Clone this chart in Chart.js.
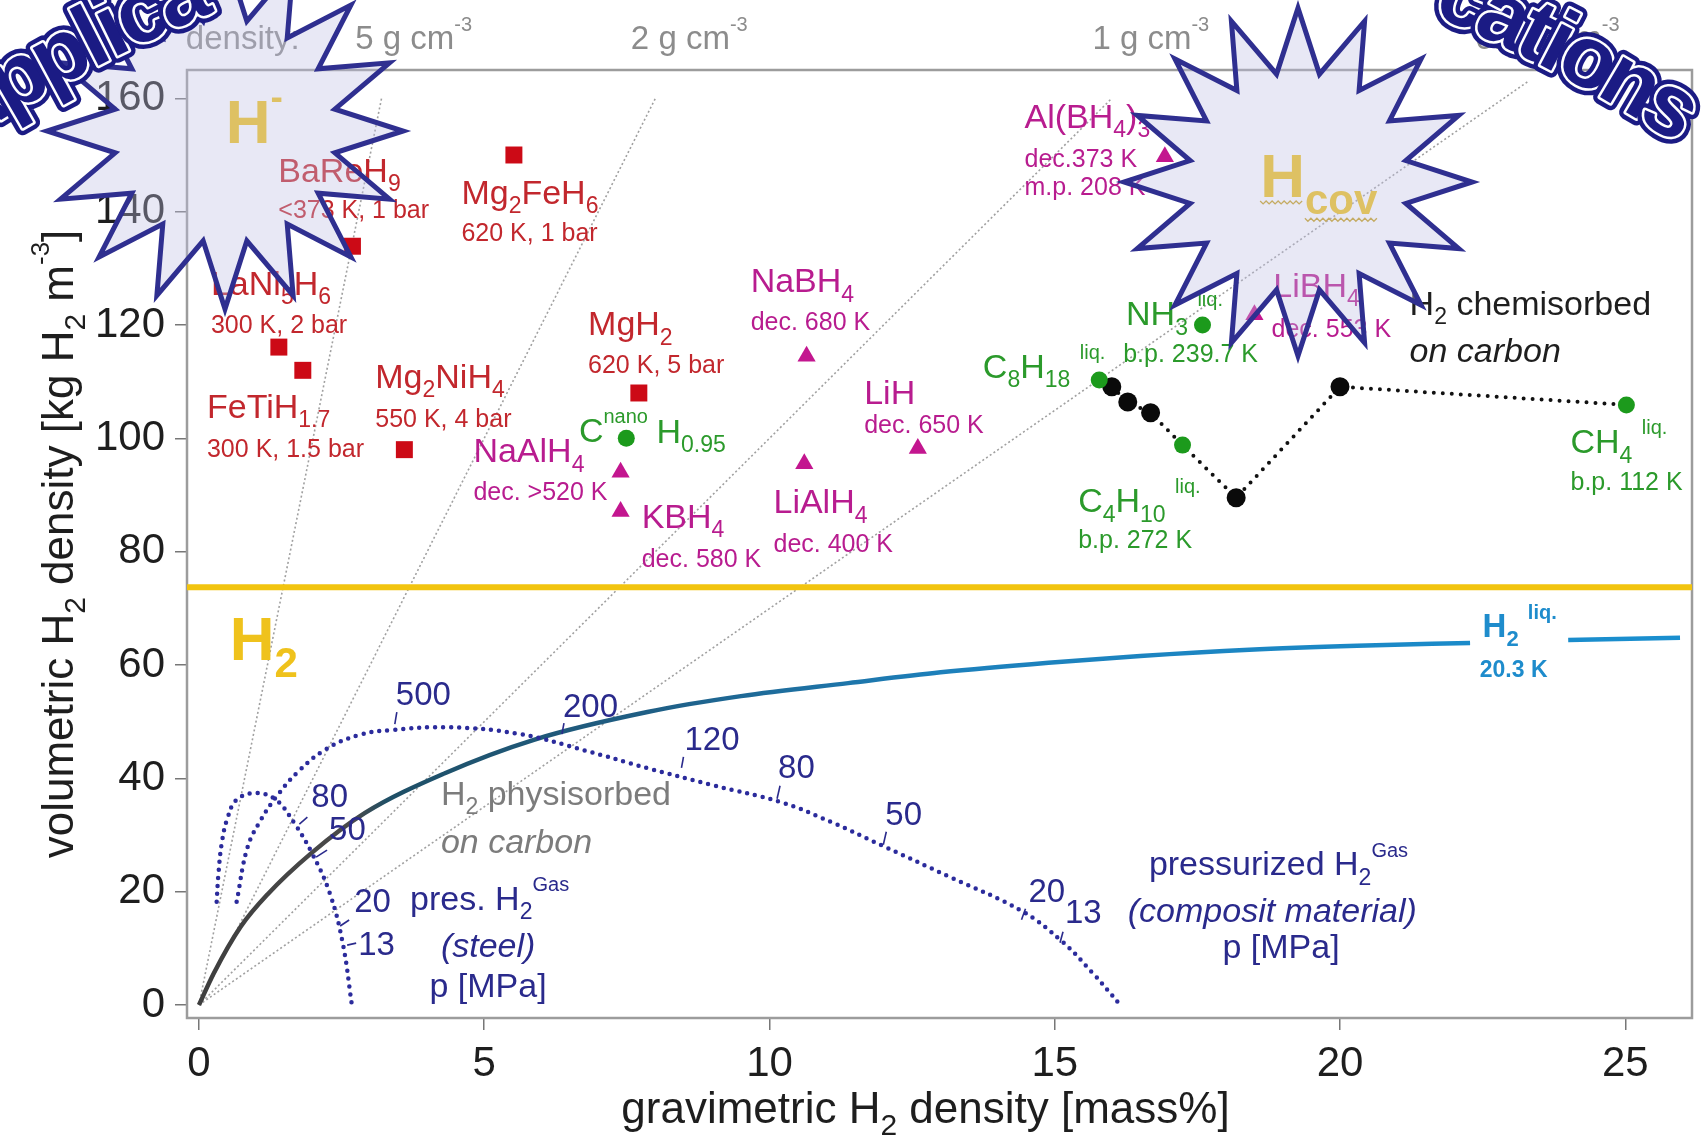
<!DOCTYPE html>
<html>
<head>
<meta charset="utf-8">
<title>Hydrogen storage densities</title>
<script src="https://cdn.jsdelivr.net/npm/chart.js"></script>
<style>
  html, body { margin: 0; padding: 0; background: #fff; }
  #wrap { width: 1704px; height: 1141px; position: relative; }
</style>
</head>
<body>
<div id="wrap"><canvas id="chart"></canvas></div>
<script>
// axis
const xMin = -0.21, xMax = 26.17, yMin = -2.3, yMax = 165;
const xTicks = [0, 5, 10, 15, 20, 25];
const yTicks = [0, 20, 40, 60, 80, 100, 120, 140, 160];

// metal hydrides (red squares)
const hydrideNames = ['BaReH9', 'Mg2FeH6', 'LaNi5H6', 'FeTiH1.7', 'Mg2NiH4', 'MgH2'];
const hydrideMass = [2.69, 5.52, 1.40, 1.82, 3.60, 7.71];
const hydrideVol = [133.9, 150.0, 116.1, 112.0, 98.0, 108.0];

// complex hydrides (magenta triangles)
const complexNames = ['Al(BH4)3', 'NaBH4', 'NaAlH4', 'KBH4', 'LiAlH4', 'LiH', 'LiBH4'];
const complexMass = [16.93, 10.65, 7.39, 7.39, 10.61, 12.60, 18.50];
const complexVol = [149.7, 114.5, 94.0, 87.1, 95.5, 98.2, 121.8];

// liquids and nano carbon (green circles)
const liquidNames = ['CnanoH0.95', 'C8H18', 'NH3', 'C4H10', 'CH4'];
const liquidMass = [7.49, 15.78, 17.59, 17.24, 25.02];
const liquidVol = [100.0, 110.3, 120.0, 98.8, 105.9];

// H2 chemisorbed on carbon (black circles + dotted guide)
const chemiMass = [16.0, 16.28, 16.68, 18.18, 20.0];
const chemiVol = [109.1, 106.4, 104.5, 89.5, 109.1];
const chemiLineMass = [16.0, 16.28, 16.68, 17.24, 18.18, 20.0, 25.02];
const chemiLineVol = [109.1, 106.4, 104.5, 98.8, 89.5, 109.1, 105.9];

// physisorbed / liquid H2 curve (null = gap for label)
const physMass = [0, 0.26, 0.73, 1.2, 1.97, 2.91, 4.31, 5.87, 7.86, 9.5, 11.38, 13.0, 14.89, 16.5, 18.41, 20.3, 22.28, 23.1, 24.0, 25.96];
const physVol = [0, 5.6, 13.8, 19.5, 26.8, 33.9, 40.9, 46.8, 51.7, 54.5, 56.8, 58.7, 60.4, 61.6, 62.7, 63.4, 63.9, null, 64.4, 64.8];

// pressurized H2 gas, steel tank
const steelMass = [0.31, 0.34, 0.40, 0.50, 0.66, 1.0, 1.35, 1.67, 1.98, 2.29, 2.52, 2.68];
const steelVol = [18.2, 23.0, 28.6, 33.0, 36.2, 37.4, 36.2, 32.1, 26.8, 19.8, 10.9, 0];

// pressurized H2 gas, composite tank
const compMass = [0.66, 0.85, 1.08, 1.36, 1.74, 2.22, 2.79, 3.35, 4.4, 5.63, 6.77, 7.86, 9.0, 10.2, 11.1, 11.96, 13.2, 14.42, 15.13, 15.65, 16.15];
const compVol = [18.2, 27.8, 32.6, 36.8, 41.2, 45.1, 47.6, 48.5, 49.0, 47.8, 44.9, 41.8, 38.8, 35.8, 32.2, 28.2, 22.4, 16.6, 11.2, 5.8, 0];

// liquid H2 density level
const liquidH2Level = 73.7;

// constant density guide lines (from origin)
const densityNames = ['5 g cm^{-3}', '2 g cm^{-3}', '1 g cm^{-3}', '0.7 g cm^{-3}'];
const densityEndMass = [3.2, 8.0, 16.0, 23.3];
const densityEndVol = [160, 160, 160, 163];
const densityLabelMass = [2.74, 7.57, 15.66, 22.37];

const FONT = '"Liberation Sans", Arial, Helvetica, sans-serif';
const RED = '#c2272d', MAG = '#b81c8f', GRN = '#2b9a2b', NAVY = '#2a2a8c',
      GRAY = '#7c7c7c', GOLD = '#efc21c', BLUE = '#1e8ccc';

// text annotations (data coordinates of left / baseline)
const labels = [
  { t: 'BaReH_{9}', x: 1.39, y: 145.3, s: 34, c: RED },
  { t: '<373 K, 1 bar', x: 1.39, y: 138.9, s: 25, c: RED },
  { t: 'Mg_{2}FeH_{6}', x: 4.60, y: 141.4, s: 34, c: RED },
  { t: '620 K, 1 bar', x: 4.60, y: 134.8, s: 25, c: RED },
  { t: 'LaNi_{5}H_{6}', x: 0.21, y: 125.3, s: 34, c: RED },
  { t: '300 K, 2 bar', x: 0.21, y: 118.6, s: 25, c: RED },
  { t: 'FeTiH_{1.7}', x: 0.14, y: 103.6, s: 34, c: RED },
  { t: '300 K, 1.5 bar', x: 0.14, y: 96.7, s: 25, c: RED },
  { t: 'Mg_{2}NiH_{4}', x: 3.09, y: 108.9, s: 34, c: RED },
  { t: '550 K, 4 bar', x: 3.09, y: 102.0, s: 25, c: RED },
  { t: 'MgH_{2}', x: 6.82, y: 118.2, s: 34, c: RED },
  { t: '620 K, 5 bar', x: 6.82, y: 111.5, s: 25, c: RED },

  { t: 'Al(BH_{4})_{3}', x: 14.47, y: 154.8, s: 34, c: MAG },
  { t: 'dec.373 K', x: 14.47, y: 147.9, s: 25, c: MAG },
  { t: 'm.p. 208 K', x: 14.47, y: 143.0, s: 25, c: MAG },
  { t: 'NaBH_{4}', x: 9.67, y: 125.8, s: 34, c: MAG },
  { t: 'dec. 680 K', x: 9.67, y: 119.1, s: 25, c: MAG },
  { t: 'NaAlH_{4}', x: 4.81, y: 95.8, s: 34, c: MAG },
  { t: 'dec. >520 K', x: 4.81, y: 89.1, s: 25, c: MAG },
  { t: 'KBH_{4}', x: 7.76, y: 84.2, s: 34, c: MAG },
  { t: 'dec. 580 K', x: 7.76, y: 77.3, s: 25, c: MAG },
  { t: 'LiAlH_{4}', x: 10.07, y: 86.8, s: 34, c: MAG },
  { t: 'dec. 400 K', x: 10.07, y: 80.0, s: 25, c: MAG },
  { t: 'LiH', x: 11.66, y: 106.0, s: 34, c: MAG },
  { t: 'dec. 650 K', x: 11.66, y: 100.9, s: 25, c: MAG },
  { t: 'LiBH_{4}', x: 18.83, y: 125.0, s: 34, c: MAG },
  { t: 'dec. 553 K', x: 18.80, y: 117.9, s: 25, c: MAG },

  { t: 'C^{nano}', x: 6.66, y: 99.4, s: 34, c: GRN },
  { t: 'H_{0.95}', x: 8.02, y: 99.2, s: 34, c: GRN },
  { t: 'C_{8}H_{18} ^{liq.}', x: 13.74, y: 110.7, s: 34, c: GRN },
  { t: 'NH_{3} ^{liq.}', x: 16.25, y: 120.0, s: 34, c: GRN },
  { t: 'b.p. 239.7 K', x: 16.20, y: 113.5, s: 25, c: GRN },
  { t: 'C_{4}H_{10} ^{liq.}', x: 15.41, y: 87.0, s: 34, c: GRN },
  { t: 'b.p. 272 K', x: 15.41, y: 80.7, s: 25, c: GRN },
  { t: 'CH_{4} ^{liq.}', x: 24.04, y: 97.4, s: 34, c: GRN },
  { t: 'b.p. 112 K', x: 24.04, y: 90.9, s: 25, c: GRN },

  { t: 'H_{2} chemisorbed', x: 21.22, y: 121.8, s: 34, c: '#1e1e1e' },
  { t: 'on carbon', x: 21.22, y: 113.5, s: 34, c: '#1e1e1e', i: true },
  { t: 'H_{2} physisorbed', x: 4.24, y: 35.3, s: 34, c: GRAY },
  { t: 'on carbon', x: 4.24, y: 26.8, s: 34, c: GRAY, i: true },

  { t: 'pres. H_{2}^{Gas}', x: 3.70, y: 16.8, s: 34, c: NAVY },
  { t: '(steel)', x: 4.24, y: 8.5, s: 34, c: NAVY, i: true },
  { t: 'p [MPa]', x: 4.04, y: 1.4, s: 34, c: NAVY },
  { t: 'pressurized H_{2}^{Gas}', x: 16.65, y: 22.9, s: 34, c: NAVY },
  { t: '(composit material)', x: 16.28, y: 14.6, s: 34, c: NAVY, i: true },
  { t: 'p [MPa]', x: 17.94, y: 8.3, s: 34, c: NAVY },

  { t: 'H_{2} ^{liq.}', x: 22.50, y: 64.9, s: 33, c: BLUE, b: true },
  { t: '20.3 K', x: 22.45, y: 57.9, s: 23, c: BLUE, b: true }
];

// big region letters (drawn below the stars)
const regionLabels = [
  { t: 'H^{-}', x: 0.47, y: 152.1, s: 62, c: GOLD, b: true },
  { t: 'H_{2}', x: 0.54, y: 60.9, s: 62, c: GOLD, b: true },
  { t: 'H_{cov}', x: 18.6, y: 142.6, s: 62, c: GOLD, b: true, wavy: true }
];

// pressure labels on the gas curves, k = tick mark offsets in px
const pressureLabels = [
  { t: '500', x: 3.45, y: 52.9, k: [1, 7, -1, 19] },
  { t: '200', x: 6.38, y: 50.8, k: [1, 6, -1, 17] },
  { t: '120', x: 8.51, y: 45.0, k: [-1, 7, -3, 18] },
  { t: '80', x: 10.15, y: 40.1, k: [2, 8, -1, 21] },
  { t: '50', x: 12.03, y: 31.8, k: [1, 7, -2, 20] },
  { t: '20', x: 14.54, y: 18.2, k: [-3, 7, -7, 18] },
  { t: '13', x: 15.18, y: 14.5, k: [-2, 9, -5, 20] },
  { t: '80', x: 1.97, y: 34.9, k: [-4, 10, -12, 17] },
  { t: '50', x: 2.28, y: 29.1, k: [-2, 10, -13, 17] },
  { t: '20', x: 2.72, y: 16.4, k: [-5, 8, -14, 14] },
  { t: '13', x: 2.79, y: 8.8, k: [-11, -10, -2, -12] }
];

function parseRich(s) {
  const segs = [];
  let buf = '', i = 0;
  while (i < s.length) {
    const ch = s[i];
    if ((ch === '_' || ch === '^') && s[i + 1] === '{') {
      if (buf) { segs.push({ t: buf, m: 0 }); buf = ''; }
      const end = s.indexOf('}', i);
      segs.push({ t: s.slice(i + 2, end), m: ch === '_' ? -1 : 1 });
      i = end + 1;
    } else {
      buf += ch;
      i++;
    }
  }
  if (buf) segs.push({ t: buf, m: 0 });
  return segs;
}

function fontFor(o, size) {
  return (o.i ? 'italic ' : '') + (o.b ? 'bold ' : '') + size + 'px ' + FONT;
}

function drawRich(ctx, s, x, y, o) {
  const items = parseRich(s).map(sg => {
    const sz = sg.m === 0 ? o.s : Math.round(o.s * (sg.m < 0 ? 0.68 : 0.6));
    ctx.font = fontFor(o, sz);
    const dy = sg.m < 0 ? o.s * 0.28 : (sg.m > 0 ? -o.s * 0.55 : 0);
    return { t: sg.t, sz, dy, w: ctx.measureText(sg.t).width };
  });
  const total = items.reduce((a, b) => a + b.w, 0);
  let cx = o.align === 'center' ? x - total / 2 : x;
  ctx.textAlign = 'left';
  ctx.textBaseline = 'alphabetic';
  items.forEach(it => {
    ctx.font = fontFor(o, it.sz);
    ctx.fillStyle = o.c;
    ctx.fillText(it.t, cx, y + it.dy);
    if (o.wavy) {
      ctx.strokeStyle = '#c9a21e';
      ctx.lineWidth = 1.3;
      ctx.beginPath();
      for (let k = 0; k <= it.w; k += 3) {
        const wy = y + it.dy + 5 + ((k / 3) % 2 ? 2 : -1);
        if (k === 0) ctx.moveTo(cx + k, wy); else ctx.lineTo(cx + k, wy);
      }
      ctx.stroke();
    }
    cx += it.w;
  });
}

function drawStar(ctx, cx, cy, R, r, n) {
  ctx.beginPath();
  for (let i = 0; i < 2 * n; i++) {
    const rad = i % 2 === 0 ? R : r;
    const a = i * Math.PI / n;
    ctx.lineTo(cx + rad * Math.cos(a), cy + rad * Math.sin(a));
  }
  ctx.closePath();
  ctx.fillStyle = 'rgba(190,190,228,0.36)';
  ctx.fill();
  ctx.strokeStyle = '#2f2f90';
  ctx.lineWidth = 5;
  ctx.lineJoin = 'miter';
  ctx.stroke();
}

// letters laid on an arch: the anchor letter's centre sits at anchorDeg
function drawArcText(ctx, text, anchor, anchorDeg, cx, cy, R) {
  const size = 88, track = 0.9;
  ctx.font = 'bold ' + size + 'px ' + FONT;
  const chars = [...text];
  const widths = chars.map(ch => ctx.measureText(ch).width * track);
  let before = widths[anchor] / 2;
  for (let i = 0; i < anchor; i++) before += widths[i];
  let a = anchorDeg * Math.PI / 180 - before / R;
  chars.forEach((ch, i) => {
    const mid = a + widths[i] / 2 / R;
    ctx.save();
    ctx.translate(cx + R * Math.sin(mid), cy - R * Math.cos(mid));
    ctx.rotate(mid);
    ctx.textAlign = 'center';
    ctx.textBaseline = 'alphabetic';
    ctx.lineJoin = 'round';
    ctx.strokeStyle = '#1b1b84';
    ctx.lineWidth = 14;
    ctx.strokeText(ch, 0, size * 0.26);
    ctx.strokeStyle = '#ffffff';
    ctx.lineWidth = 5;
    ctx.strokeText(ch, 0, size * 0.26);
    ctx.fillStyle = '#1b1b84';
    ctx.fillText(ch, 0, size * 0.26);
    ctx.restore();
    a += widths[i] / R;
  });
}

const bgPlugin = {
  id: 'bg',
  beforeDraw(chart) {
    const c = chart.ctx;
    c.save();
    c.fillStyle = '#fff';
    c.fillRect(0, 0, chart.width, chart.height);
    c.restore();
  },
  beforeDatasetsDraw(chart) {
    const c = chart.ctx, a = chart.chartArea;
    c.save();
    c.strokeStyle = '#9c9c9c';
    c.lineWidth = 2.5;
    c.strokeRect(a.left, a.top, a.right - a.left, a.bottom - a.top);
    c.restore();
  }
};

const annotatePlugin = {
  id: 'annotate',
  afterDatasetsDraw(chart) {
    const c = chart.ctx;
    const sx = v => chart.scales.x.getPixelForValue(v);
    const sy = v => chart.scales.y.getPixelForValue(v);
    c.save();
    regionLabels.forEach(l => drawRich(c, l.t, sx(l.x), sy(l.y), l));
    labels.forEach(l => drawRich(c, l.t, sx(l.x), sy(l.y), l));
    pressureLabels.forEach(p => {
      const px = sx(p.x), py = sy(p.y);
      c.strokeStyle = NAVY;
      c.lineWidth = 1.6;
      c.beginPath();
      c.moveTo(px + p.k[0], py + p.k[1]);
      c.lineTo(px + p.k[2], py + p.k[3]);
      c.stroke();
      drawRich(c, p.t, px, py, { s: 33, c: NAVY });
    });
    // density captions above the frame
    const top = chart.chartArea.top - 21;
    drawRich(c, 'density:', sx(-0.23), top, { s: 33, c: '#8c8c8c' });
    densityNames.forEach((n, i) => drawRich(c, n, sx(densityLabelMass[i]), top, { s: 33, c: '#8c8c8c' }));
    // axis titles
    drawRich(c, 'gravimetric H_{2} density [mass%]', (chart.chartArea.left + chart.chartArea.right) / 2 - 14, 1123,
      { s: 44, c: '#1e1e1e', align: 'center' });
    c.translate(73, (chart.chartArea.top + chart.chartArea.bottom) / 2);
    c.rotate(-Math.PI / 2);
    drawRich(c, 'volumetric H_{2} density [kg H_{2} m^{-3}]', 0, 0, { s: 44, c: '#1e1e1e', align: 'center' });
    c.restore();
  },
  afterDraw(chart) {
    const c = chart.ctx;
    c.save();
    drawStar(c, 225, 131, 178, 112, 16);
    drawStar(c, 1298, 182, 174, 110, 16);
    drawArcText(c, 'Applica', 1, -30.0, 820, 1468, 1600);
    drawArcText(c, 'cations', 0, 23.7, 820, 1468, 1600);
    c.restore();
  }
};

const xy = (xs, ys) => xs.map((x, i) => ({ x, y: ys[i] }));

const densityDatasets = densityNames.map((n, i) => ({
  label: n,
  data: [{ x: 0, y: 0 }, { x: densityEndMass[i], y: densityEndVol[i] }],
  showLine: true, pointRadius: 0,
  borderColor: '#a0a0a0', borderWidth: 1.6, borderDash: [2, 2.5],
  order: 9
}));

function physGradient(context) {
  const chart = context.chart;
  if (!chart.chartArea) return '#555';
  const x0 = chart.scales.x.getPixelForValue(0);
  const x1 = chart.scales.x.getPixelForValue(26);
  const g = chart.ctx.createLinearGradient(x0, 0, x1, 0);
  g.addColorStop(0, '#3e3e3e');
  g.addColorStop(2.7 / 26, '#4a4a4a');
  g.addColorStop(3.3 / 26, '#1f4f66');
  g.addColorStop(8 / 26, '#1f5f86');
  g.addColorStop(13 / 26, '#1d80bb');
  g.addColorStop(1, '#1a8fcf');
  return g;
}

const dotted = { showLine: true, pointRadius: 0, borderWidth: 4.5, borderDash: [0, 8], borderCapStyle: 'round', tension: 0.4 };

new Chart(document.getElementById('chart'), {
  type: 'scatter',
  data: {
    datasets: [
      { label: 'metal hydrides', data: xy(hydrideMass, hydrideVol), pointStyle: 'rect', pointRadius: 12,
        backgroundColor: '#cc0a16', borderWidth: 0, order: 1 },
      { label: 'complex hydrides', data: xy(complexMass, complexVol), pointStyle: 'triangle', pointRadius: 10.5,
        backgroundColor: '#c3168f', borderWidth: 0, order: 1 },
      { label: 'liquids', data: xy(liquidMass, liquidVol), pointStyle: 'circle', pointRadius: 8.5,
        backgroundColor: '#1c9a1c', borderWidth: 0, order: 1 },
      { label: 'chemisorbed', data: xy(chemiMass, chemiVol), pointStyle: 'circle', pointRadius: 9.5,
        backgroundColor: '#0a0a0a', borderWidth: 0, order: 2 },
      Object.assign({ label: 'chemisorbed line', data: xy(chemiLineMass, chemiLineVol), borderColor: '#111',
        order: 3 }, dotted, { borderWidth: 4, borderDash: [0, 9], tension: 0 }),
      Object.assign({ label: 'steel', data: xy(steelMass, steelVol), borderColor: '#2b2b9c', order: 4 }, dotted),
      Object.assign({ label: 'composite', data: xy(compMass, compVol), borderColor: '#2b2b9c', order: 4 }, dotted),
      { label: 'physisorbed', data: xy(physMass, physVol), showLine: true, pointRadius: 0, borderWidth: 4.5,
        borderColor: physGradient, cubicInterpolationMode: 'monotone', spanGaps: false, order: 5 },
      { label: 'liquid H2', data: [{ x: xMin, y: liquidH2Level }, { x: xMax, y: liquidH2Level }], showLine: true,
        pointRadius: 0, borderWidth: 6, borderColor: '#f2c40f', order: 6 },
      ...densityDatasets
    ]
  },
  options: {
    responsive: true,
    maintainAspectRatio: false,
    devicePixelRatio: 1,
    animation: false,
    events: [],
    layout: { padding: { top: 70, right: 4, left: 0, bottom: 0 } },
    plugins: { legend: { display: false }, tooltip: { enabled: false } },
    scales: {
      x: {
        type: 'linear', min: xMin, max: xMax,
        afterBuildTicks: s => { s.ticks = xTicks.map(v => ({ value: v })); },
        afterFit: s => { s.height = 123; },
        grid: { drawOnChartArea: false, tickLength: 12, color: '#777', lineWidth: 1.5 },
        border: { display: false },
        ticks: { autoSkip: false, maxRotation: 0, padding: 9, color: '#1e1e1e', font: { family: FONT, size: 42 } }
      },
      y: {
        type: 'linear', min: yMin, max: yMax,
        afterBuildTicks: s => { s.ticks = yTicks.map(v => ({ value: v })); },
        afterFit: s => { s.width = 187; },
        grid: { drawOnChartArea: false, tickLength: 12, color: '#777', lineWidth: 1.5 },
        border: { display: false },
        ticks: { autoSkip: false, padding: 10, color: '#1e1e1e', font: { family: FONT, size: 42 } }
      }
    }
  },
  plugins: [bgPlugin, annotatePlugin]
});
</script>
</body>
</html>
